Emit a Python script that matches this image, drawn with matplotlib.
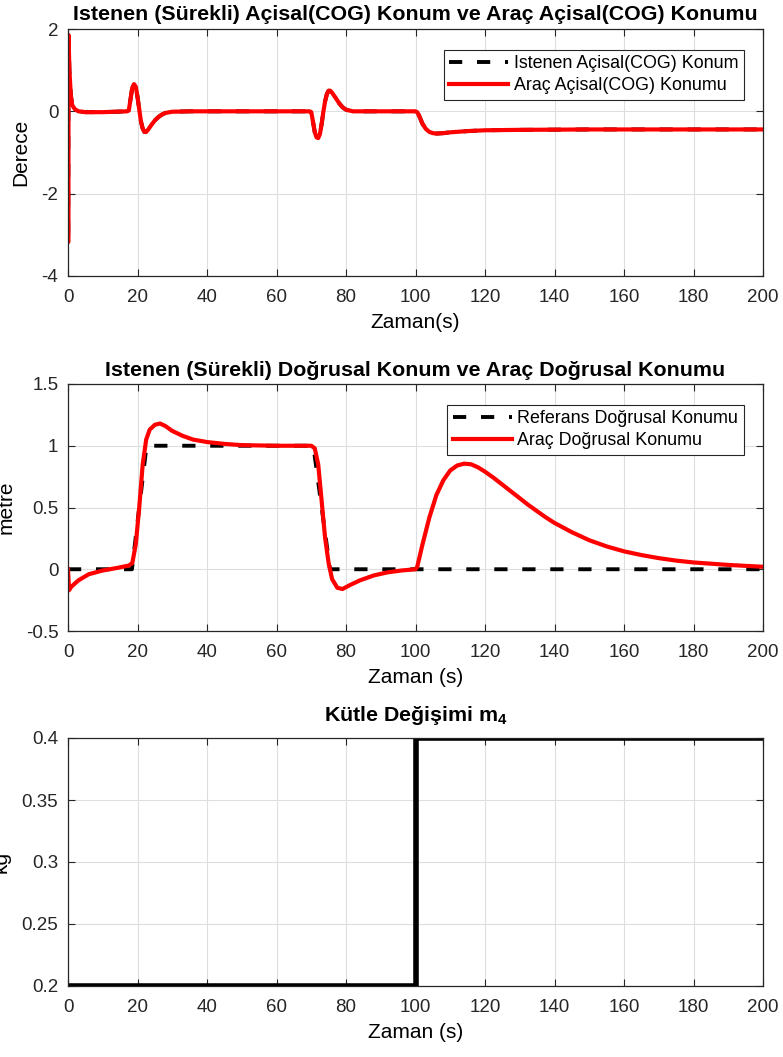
import numpy as np
import matplotlib
matplotlib.use("Agg")
import matplotlib.pyplot as plt

plt.rcParams['font.family'] = ['Liberation Sans', 'DejaVu Sans']
plt.rcParams['mathtext.fontset'] = 'custom'
plt.rcParams['mathtext.rm'] = 'Liberation Sans'
plt.rcParams['mathtext.bf'] = 'Liberation Sans:bold'
plt.rcParams['axes.unicode_minus'] = False

# --- panel 1: angular position (degrees)
t_ang = [0, 0.05, 0.15, 0.4, 0.8, 1.2, 2, 3, 5, 10, 17, 17.5, 18, 18.5, 19, 19.5,
         20, 20.5, 21, 21.5, 22, 22.5, 23, 24, 25, 26, 27, 28, 30, 35, 69.5, 70,
         70.5, 71, 71.5, 72, 72.5, 73, 73.5, 74, 74.5, 75, 75.5, 76, 77, 78, 79,
         80, 82, 100, 100.5, 101, 102, 103, 104, 105, 106, 108, 110, 115, 120,
         130, 150, 200]
ang_vehicle = [0, -3.18, 1.85, 1.0, 0.4, 0.15, 0.05, 0.0, -0.02, -0.02, 0.0, 0.02,
               0.3, 0.58, 0.66, 0.6, 0.35, 0.05, -0.25, -0.42, -0.5, -0.5, -0.45,
               -0.33, -0.22, -0.14, -0.08, -0.04, -0.01, 0.0, 0.0, -0.02, -0.25,
               -0.5, -0.63, -0.65, -0.55, -0.3, 0.0, 0.25, 0.42, 0.5, 0.5, 0.45,
               0.33, 0.2, 0.1, 0.04, 0.0, 0.0, -0.02, -0.1, -0.3, -0.43, -0.5,
               -0.53, -0.54, -0.53, -0.51, -0.48, -0.46, -0.45, -0.44, -0.44]
# desired angle is hidden under the vehicle trace in the original figure
ang_ref = list(ang_vehicle)

# --- panel 2: linear position (m)
t_lin_ref = [0, 18.4, 22.6, 70.6, 75.4, 200]
lin_ref = [0, 0, 1, 1, 0, 0]
t_lin = [0, 0.3, 1, 3, 6, 10, 14, 17.5, 18.5, 19.5, 20.5, 21.5, 22.5, 23.5, 25,
         26.5, 28, 30, 33, 36, 40, 45, 50, 60, 70, 71, 72, 73, 74, 75, 76, 77.5,
         79, 81, 84, 88, 92, 96, 100, 100.5, 102, 104, 106, 108, 110, 112, 114,
         116, 118, 120, 122.5, 125, 127.5, 130, 132.5, 135, 137.5, 140, 145,
         150, 155, 160, 165, 170, 175, 180, 190, 200]
lin_vehicle = [0, -0.17, -0.14, -0.09, -0.04, -0.01, 0.01, 0.03, 0.05, 0.2, 0.5,
               0.85, 1.05, 1.13, 1.17, 1.18, 1.16, 1.12, 1.08, 1.05, 1.03, 1.015,
               1.005, 1.0, 1.0, 0.98, 0.85, 0.55, 0.25, 0.05, -0.08, -0.15, -0.16,
               -0.13, -0.09, -0.05, -0.025, -0.01, 0.0, 0.02, 0.2, 0.42, 0.6,
               0.72, 0.8, 0.84, 0.855, 0.85, 0.825, 0.79, 0.74, 0.685, 0.63,
               0.575, 0.52, 0.47, 0.42, 0.375, 0.3, 0.235, 0.185, 0.145, 0.115,
               0.09, 0.07, 0.055, 0.035, 0.02]

# --- panel 3: mass change
t_mass = [0, 100, 100, 200]
mass = [0.2, 0.2, 0.4, 0.4]

xticks = np.arange(0, 201, 20)

fig = plt.figure(figsize=(7.83, 10.57), dpi=100)
L, W = 68 / 783, 695 / 783
H = 1057
ax1 = fig.add_axes([L, 1 - 276 / H, W, 247 / H])
ax2 = fig.add_axes([L, 1 - 631 / H, W, 247 / H])
ax3 = fig.add_axes([L, 1 - 986 / H, W, 248 / H])

edge = '#262626'
for ax in (ax1, ax2, ax3):
    ax.set_xlim(0, 200)
    ax.set_xticks(xticks)
    ax.grid(True, color='#dedede', linewidth=0.8)
    ax.set_axisbelow(True)
    ax.tick_params(direction='in', top=True, right=True, labelsize=13.5,
                   colors=edge, labelcolor='#262626', length=5)
    ax.tick_params(axis='x', pad=9.5)
    ax.tick_params(axis='y', pad=7)
    for s in ax.spines.values():
        s.set_color(edge)
        s.set_linewidth(0.9)

leg_kw = dict(loc='upper right', bbox_to_anchor=(0.972, 0.917), fontsize=12.9,
              handlelength=3.3, handletextpad=0.3, borderpad=0.3,
              labelspacing=0.3, borderaxespad=0, fancybox=False, framealpha=1,
              edgecolor='#262626')

# panel 1
ax1.plot(t_ang, ang_ref, '--', color='black', lw=2.8, dashes=(3.4, 3.8),
         label='Istenen Açisal(COG) Konum')
ax1.plot(t_ang, ang_vehicle, color='red', lw=3.0, label='Araç Açisal(COG) Konumu')
ax1.set_ylim(-4, 2)
ax1.set_yticks([-4, -2, 0, 2])
ax1.set_title('Istenen (Sürekli) Açisal(COG) Konum ve Araç Açisal(COG) Konumu',
              fontsize=15.4, fontweight='bold', pad=6.5)
ax1.set_xlabel('Zaman(s)', fontsize=15, labelpad=5)
ax1.set_ylabel('Derece', fontsize=15)
ax1.yaxis.set_label_coords(-0.055, 0.5)
leg1 = ax1.legend(**leg_kw)
leg1.get_frame().set_linewidth(0.8)

# panel 2
ax2.plot(t_lin_ref, lin_ref, '--', color='black', lw=2.8, dashes=(3.4, 3.8),
         label='Referans Doğrusal Konumu')
ax2.plot(t_lin, lin_vehicle, color='red', lw=3.0, label='Araç Doğrusal Konumu')
ax2.set_ylim(-0.5, 1.5)
ax2.set_yticks([-0.5, 0, 0.5, 1, 1.5])
ax2.set_yticklabels(['-0.5', '0', '0.5', '1', '1.5'])
ax2.set_title('Istenen (Sürekli) Doğrusal Konum ve Araç Doğrusal Konumu',
              fontsize=15.4, fontweight='bold', pad=6)
ax2.set_xlabel('Zaman (s)', fontsize=15, labelpad=5)
ax2.set_ylabel('metre', fontsize=15)
ax2.yaxis.set_label_coords(-0.076, 0.5)
leg2 = ax2.legend(**leg_kw)
leg2.get_frame().set_linewidth(0.8)

# panel 3
ax3.plot(t_mass, mass, color='black', lw=4)
ax3.set_ylim(0.2, 0.4)
ax3.set_yticks([0.2, 0.25, 0.3, 0.35, 0.4])
ax3.set_yticklabels(['0.2', '0.25', '0.3', '0.35', '0.4'])
ax3.set_title(r'Kütle Değişimi m$_{\mathbf{4}}$', fontsize=15.4, fontweight='bold', pad=12)
ax3.set_xlabel('Zaman (s)', fontsize=15, labelpad=5)
ax3.set_ylabel('kg', fontsize=15)
ax3.yaxis.set_label_coords(-0.082, 0.5)

fig.savefig('out.png', dpi=100)
